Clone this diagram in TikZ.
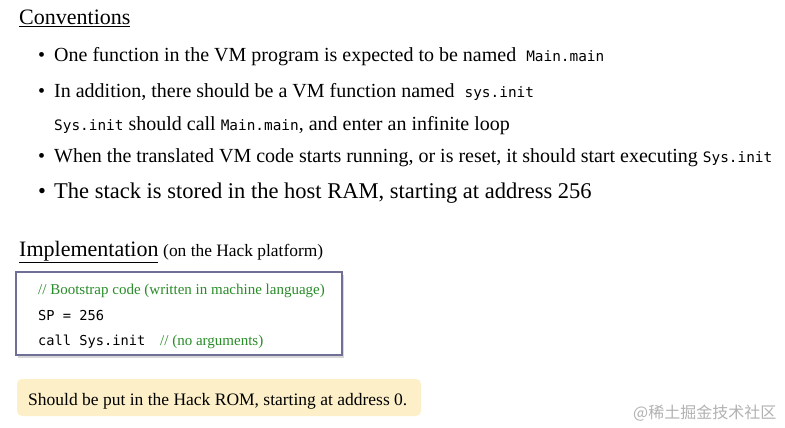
\documentclass[tikz,border=0pt]{standalone}
\usepackage{fontspec}
\setmainfont{Liberation Serif}
\newfontfamily\codefont{DejaVu Sans Mono}
\newfontfamily\cjkfont{Noto Sans CJK SC}
\usetikzlibrary{shadows}

\definecolor{cmtgreen}{RGB}{40,140,40}
\definecolor{boxedge}{RGB}{112,112,150}
\definecolor{notefill}{RGB}{253,240,201}
\newcommand{\cd}[1]{{\codefont\fontsize{14.4}{16}\selectfont #1}}
\newcommand{\bl}{\makebox[16pt][l]{\textbullet}}

\tikzstyle{tS}=[anchor=base west,inner sep=0pt,font=\fontsize{20}{24}\selectfont]
\tikzstyle{hS}=[anchor=base west,inner sep=0pt,font=\fontsize{22}{26}\selectfont]
\tikzstyle{pS}=[anchor=base west,inner sep=0pt,font=\fontsize{17.4}{20}\selectfont]
\tikzstyle{cS}=[anchor=base west,inner sep=0pt,font=\codefont\fontsize{13.7}{16}\selectfont]
\tikzstyle{gS}=[anchor=base west,inner sep=0pt,text=cmtgreen,font=\fontsize{15}{18}\selectfont]
\tikzstyle{nS}=[anchor=base west,inner sep=0pt,font=\fontsize{17.5}{20}\selectfont]
\tikzstyle{wS}=[anchor=base west,inner sep=0pt,text=black!30,font=\cjkfont\fontsize{16}{18}\selectfont]
\tikzstyle{boxS}=[draw=boxedge,line width=1.4pt,fill=white,drop shadow={opacity=0.3,shadow xshift=2pt,shadow yshift=-3pt}]
\tikzstyle{noteS}=[fill=notefill,rounded corners=5pt]

\begin{document}
\begin{tikzpicture}[x=1pt,y=-1pt]
                \fill[white] (0,0) rectangle (785,428);
                \useasboundingbox (0,0) rectangle (785,428);
                % conventions
                \draw (19,25) node[hS] (conv) {\underline{Conventions}};
                \draw (38,62) node[tS] (c1) {\bl One function in the VM program is expected to be named \ \cd{Main.main}};
                \draw (38,97) node[tS] (c2) {\bl In addition, there should be a VM function named \ \cd{sys.init}};
                \draw (54,130) node[tS] (c3) {\cd{Sys.init} should call \cd{Main.main}, and enter an infinite loop};
                \draw (38,162) node[tS] (c4) {\bl When the translated VM code starts running, or is reset, it should start executing \cd{Sys.init}};
                \draw (38,198) node[hS,font=\fontsize{22.5}{27}\selectfont] (c5) {\bl The stack is stored in the host RAM, starting at address 256};
                % implementation
                \draw (19,256) node[hS] (impl) {\underline{Implementation}};
                \draw (impl.base east) node[pS] (plat) {\ (on the Hack platform)};
                \draw[boxS] (16,272) rectangle (342,355);
                \draw (38,294) node[gS] (boot) {// Bootstrap code (written in machine language)};
                \draw (38,320) node[cS] (sp) {SP = 256};
                \draw (38,345) node[cS] (call) {call Sys.init};
                \draw (160,345) node[gS] (noarg) {// (no arguments)};
                %\draw (16,272) node (d) {};
                \fill[noteS] (17,379) rectangle (421,416);
                \draw (28,405) node[nS] (rom) {Should be put in the Hack ROM, starting at address 0.};
                \draw (633,418) node[wS] (mark) {@稀土掘金技术社区};
        \end{tikzpicture}
\end{document}
